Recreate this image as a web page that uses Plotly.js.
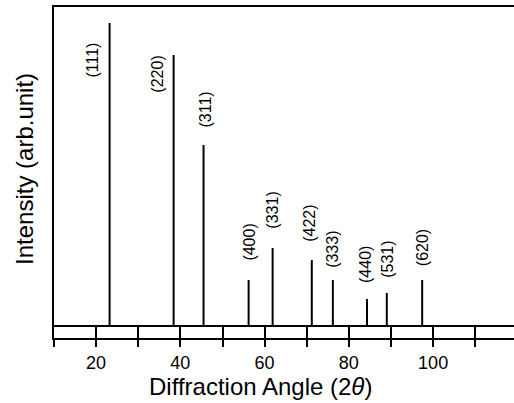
<!DOCTYPE html>
<html>
<head>
<meta charset="utf-8">
<script src="https://cdn.plot.ly/plotly-3.0.1.min.js"></script>
<style>html,body{margin:0;padding:0;background:#fff;overflow:hidden}</style>
</head>
<body>
<div id="chart" style="width:514px;height:403px"></div>
<script>
// Peak data
const peakLabels = ["(111)", "(220)", "(311)", "(400)", "(331)", "(422)", "(333)", "(440)", "(531)", "(620)"];
const peakAngles = [23.2, 38.4, 45.5, 56.2, 61.9, 71.2, 76.2, 84.3, 89.0, 97.4];
const peakIntensity = [303, 271, 181, 46, 78, 66, 46, 27, 33, 46];
const tickValues = [10, 20, 30, 40, 50, 60, 70, 80, 90, 100, 110];
const tickLabels = ["", "20", "", "40", "", "60", "", "80", "", "100", ""];

// label placement (pixel shifts relative to the peak top) - layout only
const labelShift = [[-18,-37],[-17,-19],[1,35],[0,38],[-1,38],[-3,37],[-1,31],[-2,35],[0,34],[0,32]];

const FONT = "Liberation Sans, Arial, Helvetica, sans-serif";

// stick pattern: each peak drawn as a vertical stick from the baseline to its intensity
const stickX = [], stickY = [];
peakAngles.forEach((a, i) => { stickX.push(a, a, null); stickY.push(0, peakIntensity[i], null); });

const traces = [
  {
    type: "scatter",
    mode: "lines",
    x: stickX,
    y: stickY,
    line: {color: "#000", width: 2},
    connectgaps: false,
    hoverinfo: "x+y",
    showlegend: false
  },
  {
    type: "scatter",
    x: [peakAngles[0]],
    y: [0],
    xaxis: "x2",
    mode: "none",
    hoverinfo: "skip",
    showlegend: false
  }
];

const annotations = peakLabels.map((t, i) => ({
  x: peakAngles[i], y: peakIntensity[i], xref: "x", yref: "y",
  text: t, showarrow: false, textangle: -90,
  xanchor: "center", yanchor: "middle",
  xshift: labelShift[i][0], yshift: labelShift[i][1],
  font: {family: FONT, size: 16, color: "#000"}
}));

annotations.push({
  xref: "paper", yref: "paper", x: (260 - 54) / 460, y: -(386 - 338) / 331,
  xanchor: "center", yanchor: "middle", showarrow: false,
  text: "Diffraction Angle (2<i>θ</i>)",
  font: {family: FONT, size: 24, color: "#000"}
});
annotations.push({
  xref: "paper", yref: "paper", x: -(54 - 24) / 460, y: (338 - 169) / 331,
  xanchor: "center", yanchor: "middle", showarrow: false, textangle: -90,
  text: "Intensity (arb.unit)",
  font: {family: FONT, size: 24, color: "#000"}
});

const layout = {
  width: 514, height: 403,
  margin: {l: 54, r: 0, t: 7, b: 65},
  paper_bgcolor: "#fff", plot_bgcolor: "#fff",
  font: {family: FONT, color: "#000"},
  showlegend: false,
  xaxis: {
    range: [10, 119.2],
    tickmode: "array", tickvals: tickValues, ticktext: tickLabels,
    ticks: "outside", ticklen: 7, tickwidth: 2, tickcolor: "#000",
    showline: true, linewidth: 2, linecolor: "#000", mirror: true,
    showgrid: false, zeroline: false,
    tickfont: {family: FONT, size: 18, color: "#000"}
  },
  xaxis2: {
    overlaying: "x", matches: "x", anchor: "y", side: "bottom",
    range: [10, 119.2],
    tickmode: "array", tickvals: tickValues,
    ticks: "inside", ticklen: 12, tickwidth: 2, tickcolor: "#000",
    showticklabels: false, showline: false, showgrid: false, zeroline: false
  },
  yaxis: {
    range: [-12, 319],
    showline: true, linewidth: 2, linecolor: "#000", mirror: false,
    showticklabels: false, ticks: "", showgrid: false,
    zeroline: true, zerolinewidth: 2, zerolinecolor: "#000"
  },
  annotations: annotations
};

Plotly.newPlot("chart", traces, layout, {displayModeBar: false, staticPlot: true});
</script>
</body>
</html>
